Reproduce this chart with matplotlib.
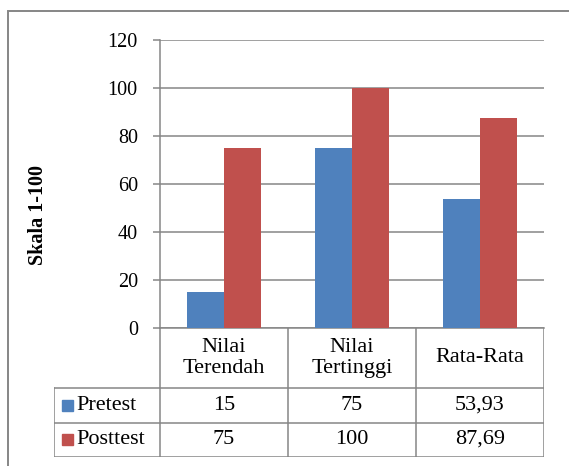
import matplotlib.pyplot as plt
from matplotlib.lines import Line2D
from matplotlib.patches import Rectangle

kategori = ['Nilai\nTerendah', 'Nilai\nTertinggi', 'Rata-Rata']
seri = ['Pretest', 'Posttest']
pretest = [15, 75, 53.93]
posttest = [75, 100, 87.69]
label_pretest = ['15', '75', '53,93']
label_posttest = ['75', '100', '87,69']
warna = ['#4F81BD', '#C0504D']
abu = '#868686'

W, H = 569, 466
plt.rcParams['font.family'] = ['Liberation Serif', 'DejaVu Serif']

fig = plt.figure(figsize=(W / 100, H / 100), dpi=100)

def kotak(x0, y0, x1, y1):
    # posisi dalam piksel (dari kiri atas) -> koordinat figure
    return [x0 / W, 1 - y1 / H, (x1 - x0) / W, (y1 - y0) / H]

# bingkai luar
fig.add_artist(Rectangle((8 / W, -0.1), 1.2, 1 - 11 / H + 0.1, transform=fig.transFigure,
                         fill=False, edgecolor=abu, linewidth=1.4))

# area grafik batang
ax = fig.add_axes(kotak(160, 40, 544, 328))
lebar = 0.29
x = range(len(kategori))
ax.bar([i - lebar / 2 for i in x], pretest, lebar, color=warna[0], zorder=3)
ax.bar([i + lebar / 2 for i in x], posttest, lebar, color=warna[1], zorder=3)
ax.set_xlim(-0.5, 2.5)
ax.set_ylim(0, 120)
ax.set_yticks(range(0, 121, 20))
ax.yaxis.grid(True, color=abu, linewidth=1.1, zorder=0)
ax.set_xticks([])
for s in ['top', 'right']:
    ax.spines[s].set_visible(False)
for s in ['left', 'bottom']:
    ax.spines[s].set_color(abu)
    ax.spines[s].set_linewidth(1.1)
ax.tick_params(axis='y', length=5, width=1.1, color=abu, pad=11, labelsize=14.5)
fig.text(38 / W, 1 - 215 / H, 'Skala 1-100', rotation=90, ha='center', va='center',
         fontsize=14.5, fontweight='bold')

# tabel data di bawah grafik
tb = fig.add_axes(kotak(54, 328, 544, 457))
tb.set_xlim(-0.5 - 106 / 128, 2.5)
tb.set_ylim(129, 0)
tb.axis('off')
kiri = -0.5 - 106 / 128
garis = dict(color=abu, linewidth=1.1, solid_capstyle='projecting')
for xv in [-0.5, 0.5, 1.5, 2.5]:
    tb.add_line(Line2D([xv, xv], [0, 129], **garis))
tb.add_line(Line2D([kiri, kiri], [60, 129], **garis))
for yv in [60, 95, 129]:
    tb.add_line(Line2D([kiri, 2.5], [yv, yv], **garis))

for i, k in enumerate(kategori):
    tb.text(i, 30, k, ha='center', va='center', fontsize=16, linespacing=1.1)

baris = [(77.5, seri[0], label_pretest, warna[0]), (111.5, seri[1], label_posttest, warna[1])]
for yv, nama, nilai, c in baris:
    tb.add_patch(Rectangle((kiri + 8 / 128, yv - 5.5), 11 / 128, 11, color=c))
    tb.text(kiri + 22 / 128, yv, nama, ha='left', va='center', fontsize=16)
    for i, v in enumerate(nilai):
        tb.text(i, yv, v, ha='center', va='center', fontsize=16)

fig.savefig('out.png', dpi=100)
